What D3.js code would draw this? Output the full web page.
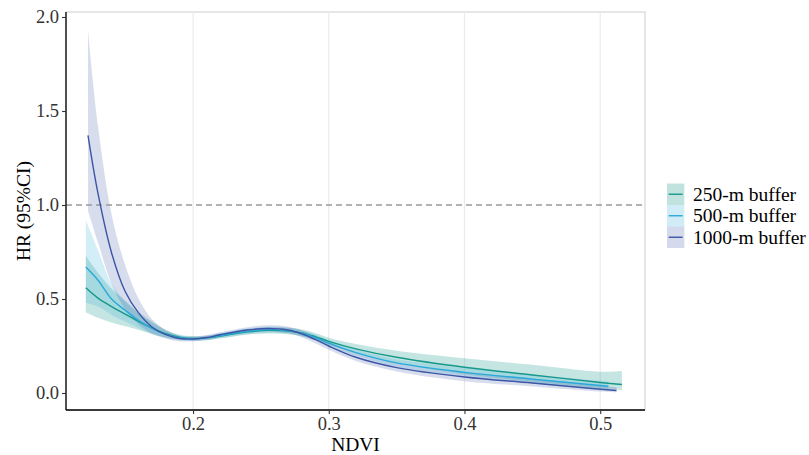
<!DOCTYPE html>
<html><head><meta charset="utf-8">
<script src="https://cdn.jsdelivr.net/npm/d3@7"></script>
<style>body{margin:0;background:#fff}svg{display:block}text{font-family:"Liberation Serif","Times New Roman",serif}</style>
</head><body>
<svg id="c" width="809" height="455"></svg>
<script>
// ---- data ----
const seriesNames = ["250-m buffer","500-m buffer","1000-m buffer"];
const xTicks = [0.2,0.3,0.4,0.5];
const yTicks = [0.0,0.5,1.0,1.5,2.0];

const ndvi250 = [0.121,0.13,0.14,0.15,0.16,0.17,0.18,0.19,0.20,0.21,0.22,0.24,0.255,0.27,0.28,0.29,0.30,0.32,0.35,0.40,0.45,0.50,0.516];
const est250  = [0.56,0.505,0.46,0.42,0.38,0.345,0.315,0.297,0.29,0.293,0.303,0.325,0.333,0.33,0.32,0.30,0.275,0.235,0.19,0.137,0.096,0.056,0.045];
const lo250   = [0.43,0.40,0.375,0.355,0.335,0.313,0.295,0.284,0.279,0.281,0.29,0.31,0.317,0.313,0.302,0.282,0.257,0.212,0.16,0.10,0.06,0.025,0.015];
const hi250   = [0.73,0.64,0.555,0.49,0.43,0.38,0.335,0.31,0.302,0.305,0.316,0.34,0.35,0.347,0.338,0.319,0.294,0.26,0.225,0.185,0.15,0.113,0.117];

const ndvi500 = [0.121,0.13,0.14,0.15,0.16,0.17,0.18,0.19,0.20,0.21,0.22,0.24,0.255,0.27,0.28,0.29,0.30,0.32,0.35,0.40,0.45,0.50,0.506];
const est500  = [0.67,0.60,0.50,0.44,0.385,0.343,0.312,0.294,0.288,0.293,0.305,0.328,0.337,0.332,0.318,0.295,0.265,0.215,0.16,0.11,0.074,0.04,0.036];
const lo500   = [0.48,0.46,0.415,0.38,0.345,0.315,0.293,0.28,0.277,0.281,0.292,0.313,0.321,0.316,0.302,0.279,0.249,0.198,0.14,0.088,0.052,0.02,0.016];
const hi500   = [0.92,0.76,0.58,0.49,0.42,0.372,0.332,0.307,0.30,0.305,0.318,0.343,0.353,0.348,0.334,0.311,0.282,0.233,0.18,0.135,0.098,0.065,0.062];

const ndvi1000 = [0.1226,0.13,0.14,0.15,0.16,0.17,0.18,0.19,0.20,0.21,0.22,0.24,0.255,0.27,0.28,0.29,0.30,0.32,0.35,0.40,0.45,0.50,0.512];
const est1000  = [1.37,1.06,0.745,0.54,0.425,0.35,0.31,0.29,0.287,0.295,0.31,0.335,0.343,0.335,0.315,0.285,0.25,0.19,0.135,0.085,0.053,0.02,0.013];
const lo1000   = [0.97,0.80,0.58,0.445,0.365,0.315,0.29,0.275,0.275,0.283,0.297,0.32,0.327,0.318,0.297,0.265,0.23,0.17,0.115,0.063,0.035,0.008,0.004];
const hi1000   = [1.93,1.42,0.95,0.68,0.50,0.39,0.335,0.305,0.30,0.308,0.323,0.35,0.36,0.353,0.334,0.306,0.272,0.213,0.16,0.11,0.077,0.038,0.03];

const colors = ["#16988a","#29a9d9","#3c55a5"];

// ---- layout ----
const svg = d3.select("#c");
const L = 66, R = 645, T = 12, B = 410;
const x = d3.scaleLinear().domain([0.1064,0.533]).range([L,R]);
const y = d3.scaleLinear().domain([-0.0904,2.0266]).range([B,T]);

const series = [
  {name:seriesNames[0], nd:ndvi250, e:est250, lo:lo250, hi:hi250, c:colors[0], a:0.25},
  {name:seriesNames[1], nd:ndvi500, e:est500, lo:lo500, hi:hi500, c:colors[1], a:0.2},
  {name:seriesNames[2], nd:ndvi1000, e:est1000, lo:lo1000, hi:hi1000, c:colors[2], a:0.2}
];

// panel border & grid
svg.append("rect").attr("x",L).attr("y",T).attr("width",R-L).attr("height",B-T)
  .attr("fill","none").attr("stroke","#d6d6d6").attr("stroke-width",1.2);
svg.append("g").selectAll("line").data(xTicks).join("line")
  .attr("x1",d=>x(d)).attr("x2",d=>x(d)).attr("y1",T).attr("y2",B)
  .attr("stroke","#ebebeb").attr("stroke-width",1.2);

// bands
const curve = d3.curveCatmullRom.alpha(0.5);
series.forEach(s=>{
  const pts = s.nd.map((n,i)=>({n, e:s.e[i], lo:s.lo[i], hi:s.hi[i]}));
  svg.append("path").datum(pts)
    .attr("d", d3.area().x(d=>x(d.n)).y0(d=>y(d.lo)).y1(d=>y(d.hi)).curve(curve))
    .attr("fill", s.c).attr("fill-opacity", s.a);
});
// reference line
svg.append("line").attr("x1",L).attr("x2",R).attr("y1",y(1)).attr("y2",y(1))
  .attr("stroke","#999").attr("stroke-width",1.3).attr("stroke-dasharray","6,4");
// lines
series.forEach(s=>{
  const pts = s.nd.map((n,i)=>({n, e:s.e[i]}));
  svg.append("path").datum(pts)
    .attr("d", d3.line().x(d=>x(d.n)).y(d=>y(d.e)).curve(curve))
    .attr("fill","none").attr("stroke", s.c).attr("stroke-width",1.4);
});

// axes
const xa = svg.append("g").attr("transform",`translate(0,${B})`)
  .call(d3.axisBottom(x).tickValues(xTicks).tickFormat(d3.format(".1f")).tickSizeOuter(0).tickSize(4).tickPadding(3));
const ya = svg.append("g").attr("transform",`translate(${L},0)`)
  .call(d3.axisLeft(y).tickValues(yTicks).tickFormat(d3.format(".1f")).tickSizeOuter(0).tickSize(4).tickPadding(3));
[xa,ya].forEach(g=>{
  g.select(".domain").attr("stroke","#000").attr("stroke-width",1.3);
  g.selectAll(".tick line").attr("stroke","#333").attr("stroke-width",1.1);
  g.selectAll(".tick text").attr("fill","#333").style("font-size","18.5px").style("font-family","Liberation Serif, serif");
});
xa.select(".domain").attr("d",`M${L},0H${R}`);
ya.select(".domain").attr("d",`M0,${T}V${B}`);

// axis titles
svg.append("text").attr("x",(L+R)/2).attr("y",451).attr("text-anchor","middle")
  .style("font-size","19.5px").attr("fill","#000").text("NDVI");
svg.append("text").attr("transform",`translate(29.5,${(T+B)/2}) rotate(-90)`).attr("text-anchor","middle")
  .style("font-size","19.5px").attr("fill","#000").text("HR (95%CI)");

// legend
const rowH = 21.5;
const lg = svg.append("g").attr("transform","translate(667,183.5)");
series.forEach((s,i)=>{
  const g = lg.append("g").attr("transform",`translate(0,${i*rowH})`);
  g.append("rect").attr("width",17.3).attr("height",rowH).attr("fill",s.c).attr("fill-opacity",s.a+0.02);
  g.append("line").attr("x1",1.7).attr("x2",15.6).attr("y1",rowH/2).attr("y2",rowH/2).attr("stroke",s.c).attr("stroke-width",1.4);
  g.append("text").attr("x",26).attr("y",rowH/2).attr("dy","0.34em").style("font-size","19.5px").attr("fill","#000").text(s.name);
});
</script>
</body></html>
